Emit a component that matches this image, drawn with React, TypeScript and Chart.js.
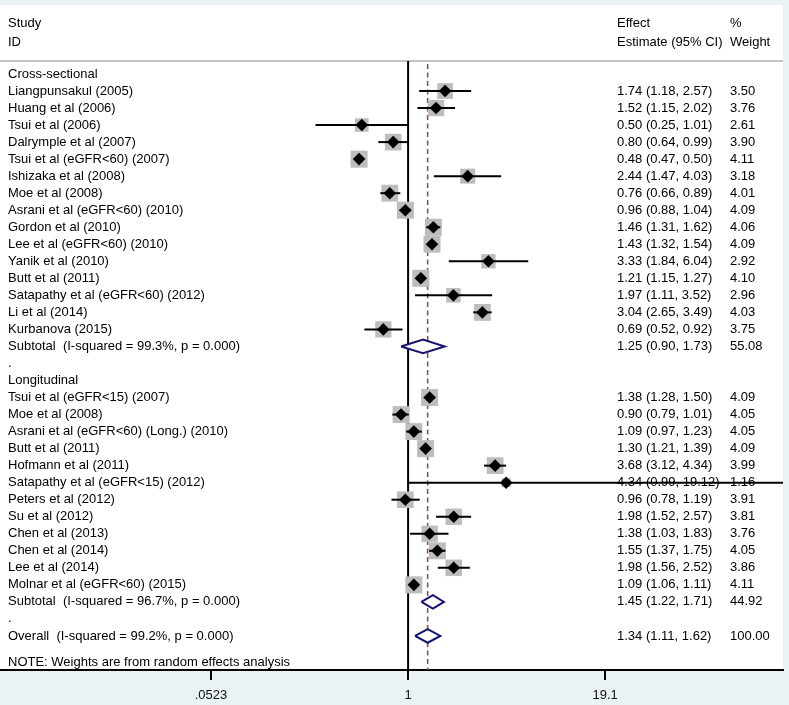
import React, { useEffect, useRef } from "react";
import { Chart, registerables } from "chart.js";

Chart.register(...registerables);

// ---------- data ----------
const crossLabels = [
  "Liangpunsakul (2005)",
  "Huang et al (2006)",
  "Tsui et al (2006)",
  "Dalrymple et al (2007)",
  "Tsui et al (eGFR<60) (2007)",
  "Ishizaka et al (2008)",
  "Moe et al (2008)",
  "Asrani et al (eGFR<60) (2010)",
  "Gordon et al (2010)",
  "Lee et al (eGFR<60) (2010)",
  "Yanik et al (2010)",
  "Butt et al (2011)",
  "Satapathy et al (eGFR<60) (2012)",
  "Li et al (2014)",
  "Kurbanova (2015)",
];
const crossEst = [1.74, 1.52, 0.5, 0.8, 0.48, 2.44, 0.76, 0.96, 1.46, 1.43, 3.33, 1.21, 1.97, 3.04, 0.69];
const crossLo = [1.18, 1.15, 0.25, 0.64, 0.47, 1.47, 0.66, 0.88, 1.31, 1.32, 1.84, 1.15, 1.11, 2.65, 0.52];
const crossHi = [2.57, 2.02, 1.01, 0.99, 0.5, 4.03, 0.89, 1.04, 1.62, 1.54, 6.04, 1.27, 3.52, 3.49, 0.92];
const crossWeight = [3.5, 3.76, 2.61, 3.9, 4.11, 3.18, 4.01, 4.09, 4.06, 4.09, 2.92, 4.1, 2.96, 4.03, 3.75];
const crossSubtotalLabel = "Subtotal  (I-squared = 99.3%, p = 0.000)";
const crossSubtotal = [1.25, 0.9, 1.73, 55.08]; // est, lo, hi, weight

const longLabels = [
  "Tsui et al (eGFR<15) (2007)",
  "Moe et al (2008)",
  "Asrani et al (eGFR<60) (Long.) (2010)",
  "Butt et al (2011)",
  "Hofmann et al (2011)",
  "Satapathy et al (eGFR<15) (2012)",
  "Peters et al (2012)",
  "Su et al (2012)",
  "Chen et al (2013)",
  "Chen et al (2014)",
  "Lee et al (2014)",
  "Molnar et al (eGFR<60) (2015)",
];
const longEst = [1.38, 0.9, 1.09, 1.3, 3.68, 4.34, 0.96, 1.98, 1.38, 1.55, 1.98, 1.09];
const longLo = [1.28, 0.79, 0.97, 1.21, 3.12, 0.99, 0.78, 1.52, 1.03, 1.37, 1.56, 1.06];
const longHi = [1.5, 1.01, 1.23, 1.39, 4.34, 19.12, 1.19, 2.57, 1.83, 1.75, 2.52, 1.11];
const longWeight = [4.09, 4.05, 4.05, 4.09, 3.99, 1.16, 3.91, 3.81, 3.76, 4.05, 3.86, 4.11];
const longSubtotalLabel = "Subtotal  (I-squared = 96.7%, p = 0.000)";
const longSubtotal = [1.45, 1.22, 1.71, 44.92];

const overallLabel = "Overall  (I-squared = 99.2%, p = 0.000)";
const overall = [1.34, 1.11, 1.62, 100.0];

const groupTitles = ["Cross-sectional", "Longitudinal"];
const noteText = "NOTE: Weights are from random effects analysis";

const xTickValues = [0.0523, 1, 19.1];
const xTickLabels = [".0523", "1", "19.1"];

// ---------- layout / style constants ----------
const X_MIN = 0.00222;
const X_MAX = 274;
const Y_MIN = -4.05;
const Y_MAX = 35;
const FONT = '13px "Liberation Sans", Arial, Helvetica, sans-serif';
const BG = "#EAF2F3";
const BOX = "#BDBDBD";
const NAVY = "#15156E";
const REFDASH = "#8E4E5A";
const COL_EFFECT = 617;
const COL_WEIGHT = 730;
const COL_STUDY = 8;

type Row = {
  kind: "title" | "study" | "sum" | "dot";
  label: string;
  est?: number;
  lo?: number;
  hi?: number;
  w?: number;
  y: number;
};

function buildRows(): Row[] {
  const rows: Row[] = [];
  let y = 0;
  const addGroup = (
    title: string,
    labels: string[],
    est: number[],
    lo: number[],
    hi: number[],
    w: number[],
    subLabel: string,
    sub: number[]
  ) => {
    rows.push({ kind: "title", label: title, y: y++ });
    labels.forEach((l, i) => {
      rows.push({ kind: "study", label: l, est: est[i], lo: lo[i], hi: hi[i], w: w[i], y: y++ });
    });
    rows.push({ kind: "sum", label: subLabel, est: sub[0], lo: sub[1], hi: sub[2], w: sub[3], y: y++ });
    rows.push({ kind: "dot", label: ".", y: y++ });
  };
  addGroup(groupTitles[0], crossLabels, crossEst, crossLo, crossHi, crossWeight, crossSubtotalLabel, crossSubtotal);
  addGroup(groupTitles[1], longLabels, longEst, longLo, longHi, longWeight, longSubtotalLabel, longSubtotal);
  rows.push({ kind: "sum", label: overallLabel, est: overall[0], lo: overall[1], hi: overall[2], w: overall[3], y: y++ });
  return rows;
}

const clipLo = (v: number) => (v < xTickValues[0] ? X_MIN : v);
const clipHi = (v: number) => (v > xTickValues[xTickValues.length - 1] ? X_MAX : v);

export default function App() {
  const ref = useRef<HTMLCanvasElement>(null);

  useEffect(() => {
    document.body.style.margin = "0";
    const canvas = ref.current;
    if (!canvas) return;
    const rows = buildRows();
    const studies = rows.filter((r) => r.kind === "study");
    const sums = rows.filter((r) => r.kind === "sum");
    const overallRow = sums[sums.length - 1];

    const datasets: any[] = [];
    // markers (top)
    datasets.push({
      type: "scatter",
      data: studies.map((r) => ({ x: r.est, y: r.y })),
      pointStyle: "rectRot",
      pointRadius: 6.3,
      pointHoverRadius: 6.3,
      backgroundColor: "#000",
      borderWidth: 0,
      order: 0,
    });
    // CI lines
    studies.forEach((r) => {
      datasets.push({
        type: "line",
        data: [
          { x: clipLo(r.lo!), y: r.y },
          { x: clipHi(r.hi!), y: r.y },
        ],
        borderColor: "#000",
        borderWidth: 2,
        pointRadius: 0,
        fill: false,
        order: 1,
      });
    });
    // summary diamonds
    const h = 0.4;
    sums.forEach((r) => {
      datasets.push({
        type: "line",
        data: [
          { x: r.lo, y: r.y },
          { x: r.est, y: r.y - h },
          { x: r.hi, y: r.y },
          { x: r.est, y: r.y + h },
          { x: r.lo, y: r.y },
        ],
        borderColor: NAVY,
        borderWidth: 2,
        borderJoinStyle: "miter",
        backgroundColor: "#FFFFFF",
        fill: "shape",
        pointRadius: 0,
        tension: 0,
        order: 1,
      });
    });
    // weight boxes (bottom)
    datasets.push({
      type: "scatter",
      data: studies.map((r) => ({ x: r.est, y: r.y })),
      pointStyle: "rect",
      pointRadius: studies.map((r) => (8.4 * Math.sqrt(r.w!)) / Math.SQRT2),
      pointHoverRadius: studies.map((r) => (8.4 * Math.sqrt(r.w!)) / Math.SQRT2),
      backgroundColor: BOX,
      borderWidth: 0,
      order: 2,
    });

    const bgPlugin = {
      id: "bg",
      beforeDraw(chart: any) {
        const { ctx, chartArea: a } = chart;
        ctx.save();
        ctx.fillStyle = BG;
        ctx.fillRect(0, 0, chart.width, chart.height);
        ctx.fillStyle = "#FFFFFF";
        ctx.fillRect(a.left, a.top, a.right - a.left, a.bottom - a.top);
        ctx.restore();
      },
      beforeDatasetsDraw(chart: any) {
        const { ctx, chartArea: a, scales } = chart;
        const xs = scales.x;
        const ys = scales.y;
        const sepY = ys.getPixelForValue(-0.76);
        ctx.save();
        // header separator
        ctx.strokeStyle = "#C4C4C4";
        ctx.lineWidth = 2;
        ctx.beginPath();
        ctx.moveTo(a.left, sepY);
        ctx.lineTo(a.right, sepY);
        ctx.stroke();
        // null line
        const x1 = xs.getPixelForValue(1);
        ctx.strokeStyle = "#000";
        ctx.lineWidth = 2;
        ctx.beginPath();
        ctx.moveTo(x1, sepY);
        ctx.lineTo(x1, a.bottom);
        ctx.stroke();
        // overall dashed line
        const xo = xs.getPixelForValue(overallRow.est);
        ctx.strokeStyle = REFDASH;
        ctx.lineWidth = 1.6;
        ctx.setLineDash([5, 3.5]);
        ctx.beginPath();
        ctx.moveTo(xo, sepY + 3);
        ctx.lineTo(xo, a.bottom);
        ctx.stroke();
        ctx.restore();
      },
      afterDraw(chart: any) {
        const { ctx, scales } = chart;
        const ys = scales.y;
        ctx.save();
        ctx.font = FONT;
        ctx.fillStyle = "#000";
        ctx.textBaseline = "middle";
        ctx.textAlign = "left";
        const hy1 = ys.getPixelForValue(-2.99);
        const hy2 = ys.getPixelForValue(-1.88);
        ctx.fillText("Study", COL_STUDY, hy1);
        ctx.fillText("ID", COL_STUDY, hy2);
        ctx.fillText("Effect", COL_EFFECT, hy1);
        ctx.fillText("Estimate (95% CI)", COL_EFFECT, hy2);
        ctx.fillText("%", COL_WEIGHT, hy1);
        ctx.fillText("Weight", COL_WEIGHT, hy2);
        rows.forEach((r) => {
          const py = ys.getPixelForValue(r.y);
          ctx.fillText(r.label, COL_STUDY, py);
          if (r.kind === "study" || r.kind === "sum") {
            ctx.fillText(
              `${r.est!.toFixed(2)} (${r.lo!.toFixed(2)}, ${r.hi!.toFixed(2)})`,
              COL_EFFECT,
              py
            );
            ctx.fillText(r.w!.toFixed(2), COL_WEIGHT, py);
          }
        });
        ctx.fillText(noteText, COL_STUDY, ys.getPixelForValue(34.53));
        ctx.restore();
      },
    };

    const chart = new Chart(canvas, {
      type: "scatter",
      data: { datasets },
      options: {
        responsive: false,
        animation: false,
        devicePixelRatio: 1,
        events: [],
        layout: { autoPadding: false, padding: { left: 0, right: 6, top: 5, bottom: 0 } },
        plugins: {
          legend: { display: false },
          tooltip: { enabled: false },
        },
        scales: {
          x: {
            type: "logarithmic",
            min: X_MIN,
            max: X_MAX,
            afterBuildTicks: (scale: any) => {
              scale.ticks = xTickValues.map((v) => ({ value: v }));
            },
            afterFit: (scale: any) => {
              scale.height = 35;
              scale.paddingLeft = 0;
              scale.paddingRight = 0;
              scale.paddingTop = 0;
              scale.paddingBottom = 0;
            },
            ticks: {
              autoSkip: false,
              maxRotation: 0,
              minRotation: 0,
              padding: 8,
              color: "#111",
              font: { family: '"Liberation Sans", Arial, sans-serif', size: 13 },
              callback: (_v: any, i: number) => xTickLabels[i],
            },
            grid: {
              display: true,
              drawOnChartArea: false,
              drawTicks: true,
              tickLength: 10,
              color: "#000",
              lineWidth: 2,
            },
            border: { display: true, color: "#000", width: 2 },
          },
          y: {
            type: "linear",
            display: false,
            min: Y_MIN,
            max: Y_MAX,
            reverse: true,
          },
        },
      } as any,
      plugins: [bgPlugin],
    });
    return () => chart.destroy();
  }, []);

  return (
    <div style={{ position: "absolute", left: 0, top: 0, width: 789, height: 705 }}>
      <canvas ref={ref} width={789} height={705} style={{ display: "block", width: 789, height: 705 }} />
    </div>
  );
}
